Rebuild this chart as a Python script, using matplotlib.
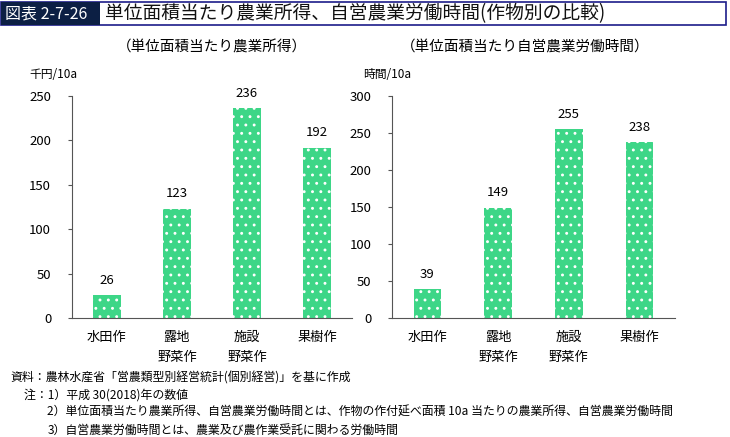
import matplotlib.pyplot as plt
from matplotlib.patches import Rectangle

plt.rcParams['font.family'] = ['Noto Sans CJK JP', 'DejaVu Sans']
plt.rcParams['hatch.linewidth'] = 0.9

crops = ['水田作', '露地\n野菜作', '施設\n野菜作', '果樹作']
income = [26, 123, 236, 192]
hours = [39, 149, 255, 238]

green = '#3dd687'
axcol = '#555555'

fig = plt.figure(figsize=(7.3, 4.37), dpi=100)

# header
fig.patches.append(Rectangle((0.002, 0.942), 0.993, 0.054, transform=fig.transFigure,
                             facecolor='white', edgecolor='#1c1c8a', lw=1.2))
fig.patches.append(Rectangle((0.002, 0.942), 0.135, 0.054, transform=fig.transFigure,
                             facecolor='#0c1f44', edgecolor='none'))
fig.text(0.007, 0.968, '図表 2-7-26', color='white', fontsize=11.5, va='center')
fig.text(0.144, 0.968, '単位面積当たり農業所得、自営農業労働時間(作物別の比較)',
         color='#111111', fontsize=13.5, va='center')


def draw(pos, vals, ymax, step, title, unit, tx, ux):
    ax = fig.add_axes(pos)
    x = range(len(crops))
    bars = ax.bar(x, vals, width=0.39, color=green, edgecolor='white', lw=0, hatch='..')
    for b, v in zip(bars, vals):
        ax.annotate(str(v), (b.get_x() + b.get_width() / 2, v), xytext=(0, 6),
                    textcoords='offset points', ha='center', va='bottom', fontsize=9.5)
    ax.set_xlim(-0.5, len(crops) - 0.5)
    ax.set_ylim(0, ymax)
    ax.set_yticks(range(0, ymax + 1, step))
    ax.set_xticks(list(x))
    ax.set_xticklabels(crops, fontsize=9.5, linespacing=1.75, va='top')
    ax.tick_params(axis='x', length=0, pad=9)
    ax.tick_params(axis='y', length=3, color=axcol, labelsize=9.5, pad=12)
    for s in ['top', 'right']:
        ax.spines[s].set_visible(False)
    for s in ['left', 'bottom']:
        ax.spines[s].set_color(axcol)
    fig.text(tx, 0.883, title, ha='center', fontsize=10.5)
    fig.text(ux, 0.822, unit, fontsize=8.5)
    return ax


draw([0.0986, 0.2723, 0.3836, 0.508], income, 250, 50,
     '（単位面積当たり農業所得）', '千円/10a', 0.29, 0.04)
draw([0.537, 0.2723, 0.3877, 0.508], hours, 300, 50,
     '（単位面積当たり自営農業労働時間）', '時間/10a', 0.72, 0.497)

notes = [
    (0.014, 0.135, '資料：農林水産省「営農類型別経営統計(個別経営)」を基に作成'),
    (0.033, 0.096, '注：1）平成 30(2018)年の数値'),
    (0.065, 0.057, '2）単位面積当たり農業所得、自営農業労働時間とは、作物の作付延べ面積 10a 当たりの農業所得、自営農業労働時間'),
    (0.065, 0.016, '3）自営農業労働時間とは、農業及び農作業受託に関わる労働時間'),
]
for nx, ny, t in notes:
    fig.text(nx, ny, t, fontsize=8.6, va='center')

fig.savefig('out.png', dpi=100)
